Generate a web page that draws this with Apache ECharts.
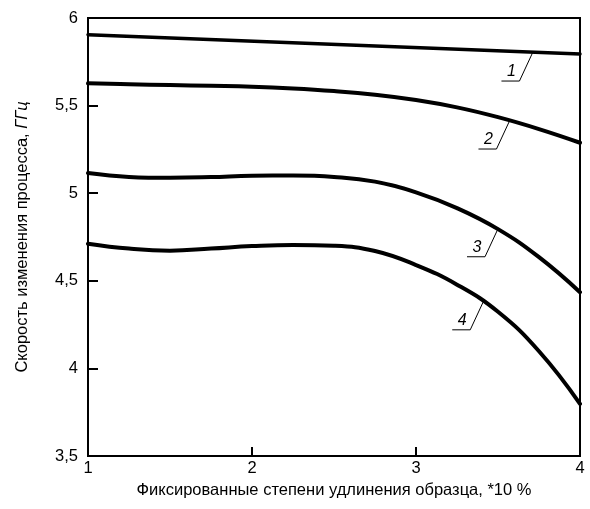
<!DOCTYPE html>
<html>
<head>
<meta charset="utf-8">
<script src="https://cdn.jsdelivr.net/npm/echarts@6/dist/echarts.min.js"></script>
<style>
  html, body { margin: 0; padding: 0; background: #fff; }
  #chart { width: 590px; height: 509px; }
</style>
</head>
<body>
<div id="chart"></div>
<script>
// Elongation steps (*10 %)
const elongation = [1, 1.25, 1.5, 1.75, 2, 2.25, 2.5, 2.75, 3, 3.25, 3.5, 3.75, 4];

// Curve 1 is a straight line: only its end points are needed
const curve1X = [1, 4];
const curve1 = [5.905, 5.795];

const curve2 = [5.627, 5.622, 5.617, 5.613, 5.608, 5.598, 5.583, 5.562, 5.532, 5.490, 5.434, 5.366, 5.288];
const curve3 = [5.115, 5.093, 5.088, 5.092, 5.100, 5.101, 5.093, 5.066, 5.005, 4.915, 4.795, 4.635, 4.435];
const curve4 = [4.712, 4.684, 4.672, 4.684, 4.698, 4.705, 4.700, 4.670, 4.590, 4.478, 4.323, 4.098, 3.798];

// Callout numbers and the points on the curves their leaders touch
const calloutText = ['1', '2', '3', '4'];
const calloutX = [3.71, 3.57, 3.50, 3.41];
const calloutY = [5.800, 5.412, 4.797, 4.380];

const yTicks = [3.5, 4, 4.5, 5, 5.5, 6];

const pairs = (xs, ys) => xs.map((x, i) => [x, ys[i]]);

const chart = echarts.init(document.getElementById('chart'), null, { renderer: 'canvas' });

const font = '"Liberation Sans", Arial, sans-serif';
const fs = 16.5;

const lineSeries = (data, w) => ({
  type: 'line',
  data: data,
  smooth: 0.45,
  showSymbol: false,
  symbol: 'none',
  lineStyle: { color: '#000', width: w, cap: 'round', join: 'round' },
  silent: true
});

chart.setOption({
  animation: false,
  backgroundColor: '#fff',
  grid: {
    left: 88, right: 10, top: 18, bottom: 53,
    show: true, borderColor: '#000', borderWidth: 2, backgroundColor: 'transparent'
  },
  xAxis: {
    type: 'value',
    min: 1, max: 4, interval: 1,
    name: 'Фиксированные степени удлинения образца, *10 %',
    nameLocation: 'middle',
    nameGap: 25,
    nameTextStyle: { fontFamily: font, fontSize: fs, color: '#000' },
    axisLine: { show: true, lineStyle: { color: '#000', width: 2 } },
    axisTick: { show: true, inside: true, length: 9, lineStyle: { color: '#000', width: 2 } },
    axisLabel: { fontFamily: font, fontSize: fs, color: '#000', margin: 4 },
    splitLine: { show: false }
  },
  yAxis: {
    type: 'value',
    min: 3.5, max: 6, interval: 0.5,
    name: '{n|Скорость изменения процесса, }{i|ГГц}',
    nameLocation: 'middle',
    nameGap: 57,
    nameRotate: 90,
    nameTextStyle: {
      fontFamily: font, fontSize: fs, color: '#000',
      rich: {
        n: { fontFamily: font, fontSize: fs, color: '#000' },
        i: { fontFamily: font, fontSize: fs, color: '#000', fontStyle: 'italic' }
      }
    },
    axisLine: { show: true, lineStyle: { color: '#000', width: 2 } },
    axisTick: { show: true, inside: true, length: 10, lineStyle: { color: '#000', width: 2 } },
    axisLabel: {
      fontFamily: font, fontSize: fs, color: '#000', margin: 10,
      formatter: v => (yTicks.includes(v) ? String(v).replace('.', ',') : '')
    },
    splitLine: { show: false }
  },
  series: [
    lineSeries(pairs(curve1X, curve1), 3.5),
    lineSeries(pairs(elongation, curve2), 4),
    lineSeries(pairs(elongation, curve3), 4),
    lineSeries(pairs(elongation, curve4), 4)
  ]
});

// Callouts: a slanted leader from the curve down-left, an underline and an italic number
const graphics = [];
calloutText.forEach((t, i) => {
  const p = chart.convertToPixel({ gridIndex: 0 }, [calloutX[i], calloutY[i]]);
  const ex = p[0] - 13, ey = p[1] + 28;
  graphics.push({
    type: 'polyline',
    shape: { points: [[p[0], p[1]], [ex, ey], [ex - 18, ey]] },
    style: { stroke: '#000', lineWidth: 1, fill: null },
    silent: true
  });
  graphics.push({
    type: 'text',
    x: ex - 8, y: ey - 1,
    style: {
      text: t, fill: '#000',
      font: 'italic 16px ' + font,
      textAlign: 'center', textVerticalAlign: 'bottom'
    },
    silent: true
  });
});
chart.setOption({ graphic: graphics });
</script>
</body>
</html>
